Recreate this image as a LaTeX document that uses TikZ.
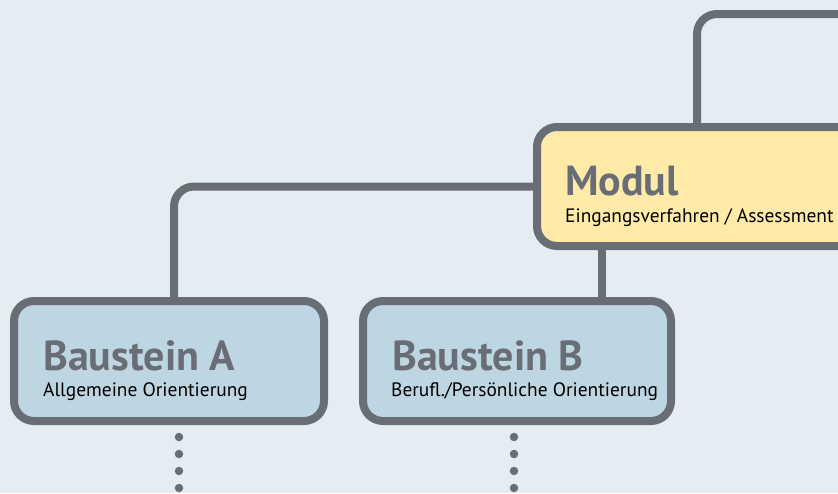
\documentclass[tikz,border=0pt]{standalone}
\usepackage{fontspec}
\setmainfont{PT Sans}
\usetikzlibrary{calc,backgrounds}
\definecolor{bg}{HTML}{E5ECF4}
\definecolor{ln}{HTML}{696D75}
\definecolor{yel}{HTML}{FFEAA8}
\definecolor{blu}{HTML}{BED6E1}
\tikzset{
  box/.style={draw=ln, line width=8pt, rounded corners=20pt, minimum height=120pt, inner sep=0pt},
  conn/.style={draw=ln, line width=8pt, rounded corners=20pt},
  head/.style={anchor=base west, inner sep=0pt, text=ln, font=\fontsize{42}{42}\selectfont\bfseries},
  sub/.style={anchor=base west, inner sep=0pt, text=black, font=\fontsize{19.4}{19.4}\selectfont},
  dot/.style={circle, fill=ln, minimum size=8.5pt, inner sep=0pt}
}
\begin{document}
\begin{tikzpicture}[x=1pt,y=-1pt]
\clip (0,0) rectangle (838,493);
% boxes
\node[box, fill=yel, minimum width=403pt, minimum height=119pt] (modul) at (738.5,186.5) {};
\node[box, fill=blu, minimum width=310pt] (A) at (169,361) {};
\node[box, fill=blu, minimum width=308pt] (B) at (517,361) {};
% connector end points
\coordinate (topend) at (860,14);
\coordinate (ca) at (174,301);
\coordinate (cbtop) at (602,246);
\coordinate (cbbot) at (602,301);
\coordinate (ctop) at (697,127);
\begin{scope}[on background layer]
\fill[bg] (0,0) rectangle (838,493);
\draw[conn] (ctop) |- (topend);
\draw[conn] (modul.west) -| (ca);
\draw[conn] (cbtop) -- (cbbot);
\end{scope}
% texts
\node[head] (mh) at (565,195) {Modul};
\node[sub] (ms) at (565,222) {Eingangsverfahren / Assessment};
\node[head] (ah) at (43,370) {Baustein A};
\node[sub] (as) at (43,396) {Allgemeine Orientierung};
\node[head] (bh) at (392,370) {Baustein B};
\node[sub] (bs) at (391,396) {Berufl./Persönliche Orientierung};
% dots
\foreach \y [count=\i] in {437,454,471,488}{
  \node[dot] (ad\i) at (179,\y) {};
  \node[dot] (bd\i) at (514,\y) {};
}
\end{tikzpicture}
\end{document}
